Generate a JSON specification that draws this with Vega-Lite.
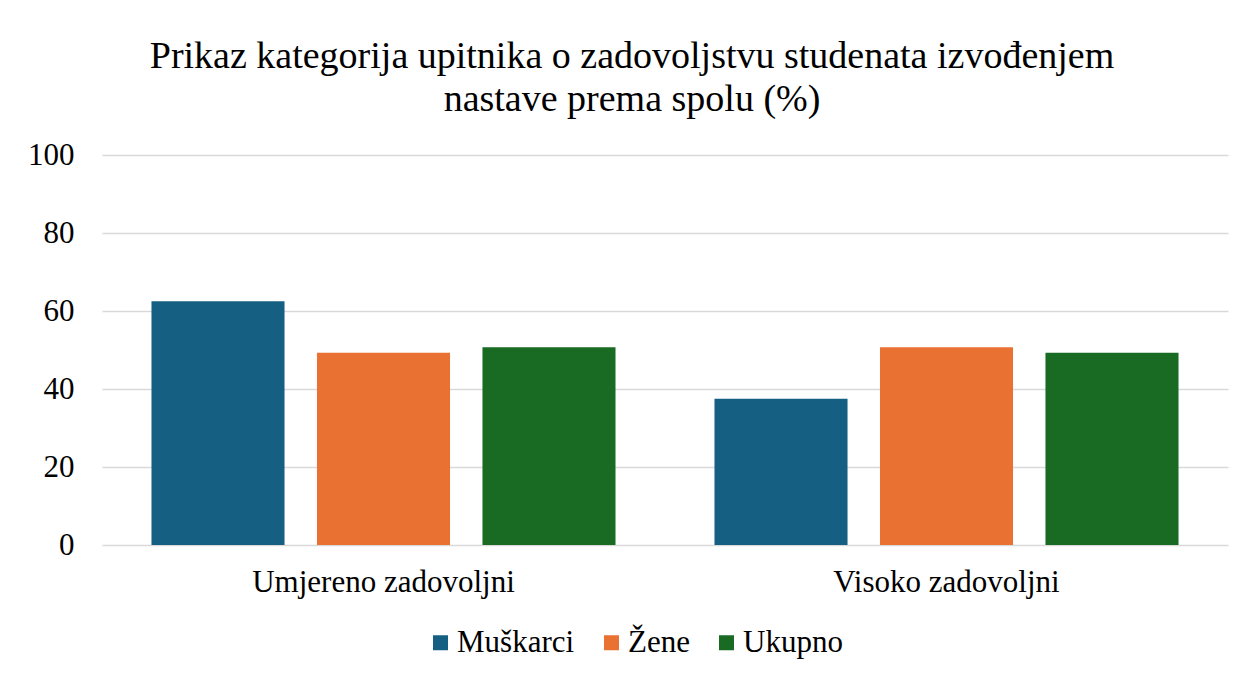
{
  "$schema": "https://vega.github.io/schema/vega-lite/v6.json",
  "autosize": {"type": "none"},
  "width": 1126,
  "height": 390,
  "padding": {"left": 102, "top": 155, "right": 16, "bottom": 130},
  "background": "white",
  "title": {
    "text": ["Prikaz kategorija upitnika o zadovoljstvu studenata izvođenjem", "nastave prema spolu (%)"],
    "font": "'Liberation Serif', 'Times New Roman', serif",
    "fontSize": 38,
    "fontWeight": "normal",
    "color": "#000000",
    "anchor": "middle",
    "lineHeight": 43,
    "dx": -33,
    "offset": 20
  },
  "data": {
    "values": [
      {"kategorija": "Umjereno zadovoljni", "spol": "Muškarci", "postotak": 62.5},
      {"kategorija": "Umjereno zadovoljni", "spol": "Žene", "postotak": 49.3},
      {"kategorija": "Umjereno zadovoljni", "spol": "Ukupno", "postotak": 50.7},
      {"kategorija": "Visoko zadovoljni", "spol": "Muškarci", "postotak": 37.5},
      {"kategorija": "Visoko zadovoljni", "spol": "Žene", "postotak": 50.7},
      {"kategorija": "Visoko zadovoljni", "spol": "Ukupno", "postotak": 49.3}
    ]
  },
  "mark": {"type": "bar"},
  "encoding": {
    "x": {
      "field": "kategorija",
      "type": "nominal",
      "sort": ["Umjereno zadovoljni", "Visoko zadovoljni"],
      "scale": {"paddingInner": 0, "paddingOuter": 0},
      "axis": {
        "title": null,
        "labelAngle": 0,
        "labelFont": "'Liberation Serif', 'Times New Roman', serif",
        "labelFontSize": 31,
        "labelColor": "#000000",
        "labelPadding": 22,
        "labelLimit": 0,
        "domain": false,
        "ticks": false,
        "grid": false
      }
    },
    "xOffset": {
      "field": "spol",
      "type": "nominal",
      "sort": ["Muškarci", "Žene", "Ukupno"],
      "scale": {"paddingInner": 0.196, "paddingOuter": 0.299}
    },
    "y": {
      "field": "postotak",
      "type": "quantitative",
      "scale": {"domain": [0, 100], "nice": false},
      "axis": {
        "title": null,
        "values": [0, 20, 40, 60, 80, 100],
        "labelFont": "'Liberation Serif', 'Times New Roman', serif",
        "labelFontSize": 31,
        "labelColor": "#000000",
        "labelPadding": 28,
        "domain": false,
        "ticks": false,
        "grid": true,
        "gridColor": "#d9d9d9",
        "gridWidth": 1.5
      }
    },
    "color": {
      "field": "spol",
      "type": "nominal",
      "sort": ["Muškarci", "Žene", "Ukupno"],
      "scale": {"domain": ["Muškarci", "Žene", "Ukupno"], "range": ["#156082", "#E97132", "#196B24"]},
      "legend": {
        "title": null,
        "orient": "none",
        "direction": "horizontal",
        "legendX": 323,
        "legendY": 472,
        "symbolType": "square",
        "symbolSize": 225,
        "symbolStrokeWidth": 0,
        "labelFont": "'Liberation Serif', 'Times New Roman', serif",
        "labelFontSize": 31,
        "labelLimit": 0,
        "labelColor": "#000000",
        "labelOffset": 1,
        "columnPadding": 21
      }
    }
  },
  "config": {
    "view": {"stroke": null}
  }
}
